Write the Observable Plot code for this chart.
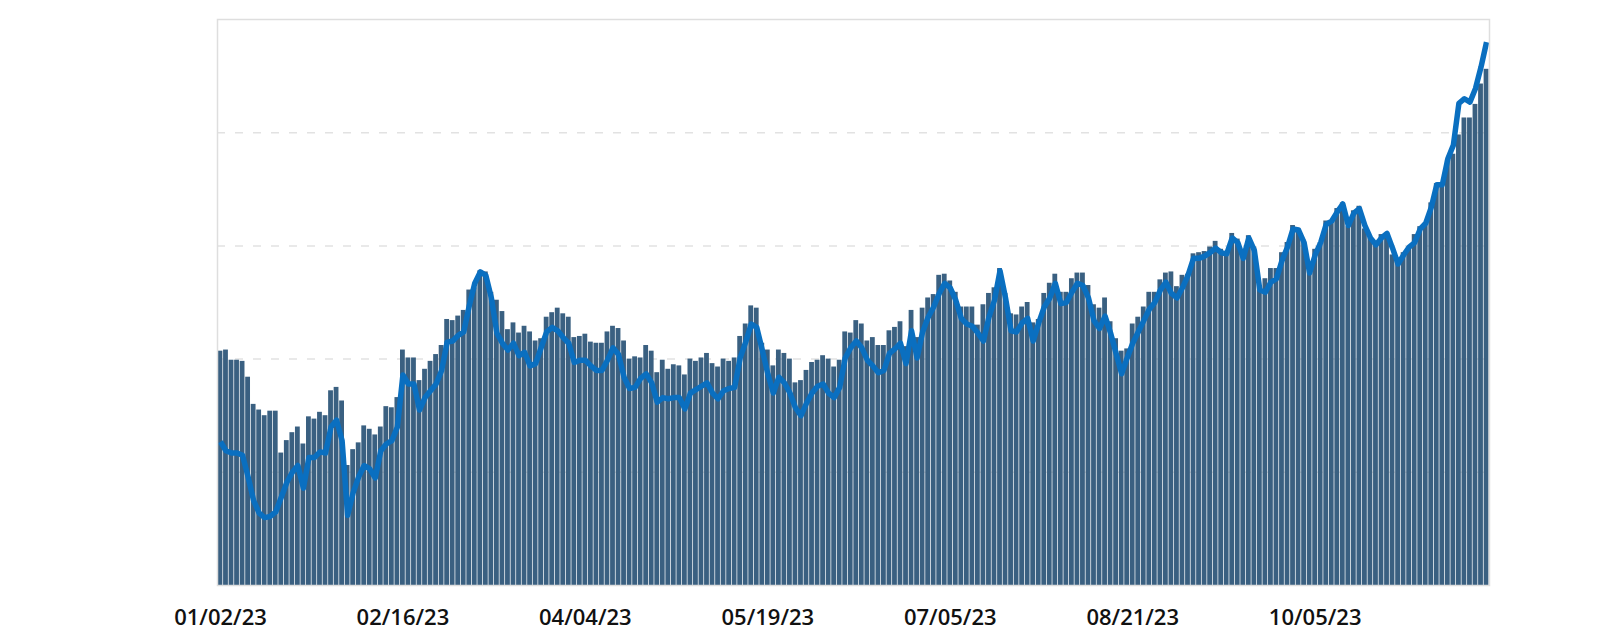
<!DOCTYPE html>
<html>
<head>
<meta charset="utf-8">
<script src="https://cdn.jsdelivr.net/npm/d3@7"></script>
<script src="https://cdn.jsdelivr.net/npm/@observablehq/plot@0.6"></script>
<style>
  html, body { margin: 0; padding: 0; background: #fff; }
  #chart { width: 1622px; height: 641px; }
</style>
</head>
<body>
<div id="chart"></div>
<script>
// Tick labels (category index -> label)
const tickIdx = [0, 33, 66, 99, 132, 165, 198];
const tickLabels = ["01/02/23", "02/16/23", "04/04/23", "05/19/23", "07/05/23", "08/21/23", "10/05/23"];

// Bar series (one value per day, index 0..229)
const barValues = [
  207,208,199,199,198,184,160,155,150,154,
  154,117,128,135,140,125,149,147,153,150,
  172,175,163,106,120,126,141,138,133,140,
  158,157,166,208,201,201,181,191,198,204,
  212,235,234,238,243,261,263,278,277,259,
  252,242,226,232,223,229,224,216,218,237,
  241,245,240,237,219,220,222,215,214,214,
  224,229,227,216,200,202,201,212,207,188,
  199,191,195,194,186,200,198,201,205,196,
  193,200,198,201,220,231,247,245,214,208,
  194,208,205,200,179,181,190,197,199,203,
  200,193,199,224,223,234,231,216,219,212,
  212,225,228,233,211,243,219,245,254,257,
  274,275,269,259,246,246,246,230,248,258,
  263,280,258,240,239,246,250,232,235,258,
  267,275,259,259,271,276,276,265,248,245,
  254,233,218,207,209,231,237,246,259,259,
  270,276,277,264,274,275,293,294,295,299,
  304,297,293,311,306,292,309,299,261,271,
  280,280,294,303,318,315,305,280,297,303,
  322,322,333,338,317,331,335,315,307,303,
  310,310,292,285,294,299,310,317,320,338,
  355,353,376,381,398,413,413,425,443,456
];

// Line series
const lineValues = [
  127,119,117,117,115,96,75,64,60,61,
  65,78,91,100,106,86,113,113,118,117,
  140,146,128,62,82,96,106,103,95,119,
  125,128,140,186,178,178,155,166,172,178,
  190,215,216,221,224,247,267,277,274,254,
  223,214,208,214,203,206,194,196,210,224,
  228,225,219,214,197,199,199,194,190,190,
  199,210,204,184,174,175,183,187,179,162,
  166,165,166,166,156,170,173,176,179,170,
  165,172,174,175,201,215,231,228,208,187,
  170,184,179,170,157,150,161,170,176,178,
  170,166,175,201,210,216,210,199,194,188,
  190,205,209,214,196,225,201,224,237,246,
  258,267,263,252,236,231,229,223,216,237,
  252,278,254,225,224,232,236,216,232,246,
  254,267,249,250,259,267,265,254,234,227,
  238,223,205,187,201,214,224,234,244,250,
  261,268,258,254,263,274,289,289,291,294,
  298,294,293,307,303,289,307,296,261,259,
  268,271,287,299,315,314,303,276,292,303,
  319,322,330,337,318,329,333,318,307,301,
  307,311,298,284,292,299,303,315,320,334,
  354,354,377,389,426,430,427,439,458,480
];

const gridValues = [100, 200, 300, 400];

const rows = barValues.map((v, i) => ({i, bar: v, line: lineValues[i]}));

const chart = Plot.plot({
  width: 1622,
  height: 641,
  marginLeft: 217,
  marginRight: 133,
  marginTop: 19,
  marginBottom: 56,
  style: {fontFamily: "'Open Sans', 'Noto Sans', sans-serif", fontSize: "22px", color: "#111", background: "#fff"},
  x: {type: "band", domain: rows.map(d => d.i), paddingInner: 0.13, paddingOuter: 0.1, axis: null, label: null},
  y: {domain: [0, 500], axis: null, label: null},
  marks: [
    Plot.ruleY(gridValues, {stroke: "#e2e2e2", strokeWidth: 1.5, strokeDasharray: "8,10"}),
    Plot.barY(rows, {x: "i", y: "bar", fill: "#3a6081"}),
    Plot.line(rows, {x: "i", y: "line", stroke: "#0a6fc0", strokeWidth: 5.5, strokeLinejoin: "round", strokeLinecap: "butt"}),
    Plot.frame({stroke: "#dedede", strokeWidth: 1.5}),
    Plot.axisX({
      ticks: tickIdx,
      tickFormat: i => tickLabels[tickIdx.indexOf(i)],
      tickSize: 0,
      tickPadding: 24,
      fontSize: 22,
      fontWeight: 600,
      fill: "#111",
      label: null
    })
  ]
});
document.getElementById("chart").appendChild(chart);
</script>
</body>
</html>
